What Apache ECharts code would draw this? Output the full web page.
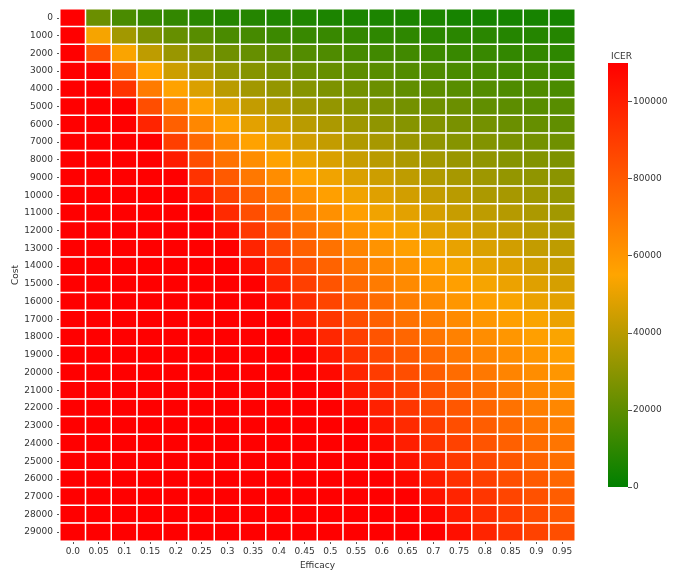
<!DOCTYPE html>
<html>
<head>
<meta charset="utf-8">
<script src="https://cdn.jsdelivr.net/npm/echarts@6/dist/echarts.min.js"></script>
<style>
html,body{margin:0;padding:0;background:#fff;}
#chart{width:678px;height:571px;}
</style>
</head>
<body>
<div id="chart"></div>
<script>
// Efficacy categories (x axis)
const efficacy = ['0.0','0.05','0.1','0.15','0.2','0.25','0.3','0.35','0.4','0.45',
                  '0.5','0.55','0.6','0.65','0.7','0.75','0.8','0.85','0.9','0.95'];
// Cost categories (y axis, top to bottom)
const cost = ['0','1000','2000','3000','4000','5000','6000','7000','8000','9000',
              '10000','11000','12000','13000','14000','15000','16000','17000','18000','19000',
              '20000','21000','22000','23000','24000','25000','26000','27000','28000','29000'];
// Colorbar tick labels
const colorbarTicks = [0, 20000, 40000, 60000, 80000, 100000];

// ICER values in thousands, one array per efficacy column (cost 0 .. 29000)
const icerK = [
  [110,110,110,110,110,110,110,110,110,110, 110,110,110,110,110,110,110,110,110,110, 110,110,110,110,110,110,110,110,110,110],
  [23,53,83,110,110,110,110,110,110,110, 110,110,110,110,110,110,110,110,110,110, 110,110,110,110,110,110,110,110,110,110],
  [16,35,54,74,93,110,110,110,110,110, 110,110,110,110,110,110,110,110,110,110, 110,110,110,110,110,110,110,110,110,110],
  [12,27,41,55,69,84,98,110,110,110, 110,110,110,110,110,110,110,110,110,110, 110,110,110,110,110,110,110,110,110,110],
  [11,22,33,44,56,67,78,89,101,110, 110,110,110,110,110,110,110,110,110,110, 110,110,110,110,110,110,110,110,110,110],
  [9,19,28,37,47,56,65,75,84,93, 102,110,110,110,110,110,110,110,110,110, 110,110,110,110,110,110,110,110,110,110],
  [8,16,24,32,40,48,56,64,72,80, 88,96,104,110,110,110,110,110,110,110, 110,110,110,110,110,110,110,110,110,110],
  [8,15,22,29,35,42,49,56,63,70, 77,84,91,98,105,110,110,110,110,110, 110,110,110,110,110,110,110,110,110,110],
  [7,13,20,26,32,38,44,50,56,63, 69,75,81,87,93,99,106,110,110,110, 110,110,110,110,110,110,110,110,110,110],
  [7,12,18,23,29,34,40,45,51,56, 62,67,73,78,84,89,95,100,106,110, 110,110,110,110,110,110,110,110,110,110],
  [6,12,17,22,27,32,37,42,47,52, 57,62,67,72,77,82,87,92,97,102, 107,110,110,110,110,110,110,110,110,110],
  [6,11,15,20,25,29,34,38,43,47, 52,57,61,66,70,75,80,84,89,93, 98,102,107,110,110,110,110,110,110,110],
  [6,10,14,19,23,27,31,36,40,44, 48,52,57,61,65,69,74,78,82,86, 90,95,99,103,107,110,110,110,110,110],
  [6,10,14,18,21,25,29,33,37,41, 45,49,53,57,61,64,68,72,76,80, 84,88,92,96,100,104,107,110,110,110],
  [6,9,13,17,20,24,28,31,35,38, 42,46,49,53,57,60,64,68,71,75, 79,82,86,90,93,97,101,104,108,110],
  [5,9,12,16,19,23,26,29,33,36, 40,43,47,50,53,57,60,64,67,70, 74,77,81,84,88,91,94,98,101,105],
  [5,9,12,15,18,21,25,28,31,34, 37,41,44,47,50,53,57,60,63,66, 70,73,76,79,82,86,89,92,95,98],
  [5,8,11,14,17,20,23,26,29,32, 36,39,42,45,48,51,54,57,60,63, 66,69,72,75,78,81,84,87,90,93],
  [5,8,11,14,17,19,22,25,28,31, 34,37,40,42,45,48,51,54,57,60, 63,65,68,71,74,77,80,83,85,88],
  [5,8,10,13,16,19,21,24,27,30, 32,35,38,41,43,46,49,51,54,57, 60,62,65,68,71,73,76,79,81,84]
];

const data = [];
icerK.forEach((col, xi) => col.forEach((v, yi) => data.push([xi, yi, v * 1000])));

const colors = ['#008000', '#FFA500', '#FF0000'];
const chart = echarts.init(document.getElementById('chart'), null, {renderer: 'canvas'});
const font = 'DejaVu Sans';
const hidden = {show: false};
chart.setOption({
  animation: false,
  backgroundColor: '#fff',
  textStyle: {fontFamily: font},
  axisPointer: {show: false},
  title: {
    text: 'ICER', left: 606, top: 47,
    textStyle: {fontSize: 9, fontWeight: 'normal', color: '#333', fontFamily: font}
  },
  grid: [
    {left: 60, top: 9, width: 515, height: 532, outerBoundsMode: 'none', containLabel: false},
    {left: 608, top: 63, width: 20, height: 424, outerBoundsMode: 'none', containLabel: false, show: false}
  ],
  xAxis: [
    {
      type: 'category', data: efficacy, gridIndex: 0,
      name: 'Efficacy', nameLocation: 'middle', nameGap: 20,
      nameTextStyle: {fontSize: 9, color: '#333', fontFamily: font},
      axisLine: {show: false},
      axisTick: {show: true, alignWithLabel: true, length: 3, lineStyle: {color: '#555'}},
      axisLabel: {fontSize: 9, color: '#333', margin: 6, interval: 0, fontFamily: font},
      splitLine: {show: false}
    },
    {type: 'category', data: [''], gridIndex: 1, show: false,
     axisLine: hidden, axisTick: hidden, axisLabel: hidden, splitLine: hidden, splitArea: hidden}
  ],
  yAxis: [
    {
      type: 'category', data: cost, gridIndex: 0, inverse: true,
      name: 'Cost', nameLocation: 'middle', nameGap: 40, nameRotate: 90, nameMoveOverlap: false,
      nameTextStyle: {fontSize: 9, color: '#333', fontFamily: font},
      axisLine: {show: false},
      axisTick: {show: true, alignWithLabel: true, length: 3, lineStyle: {color: '#555'}},
      axisLabel: {fontSize: 9, color: '#333', margin: 7, interval: 0, fontFamily: font},
      splitLine: {show: false}
    },
    {
      type: 'value', gridIndex: 1, position: 'right', min: 0, max: 110000,
      axisLine: {show: false},
      axisTick: {show: true, length: 4, lineStyle: {color: '#555'}, customValues: colorbarTicks},
      axisLabel: {fontSize: 9, color: '#333', margin: 5, customValues: colorbarTicks,
                  formatter: v => String(v), fontFamily: font},
      splitLine: {show: false}, splitArea: {show: false}
    }
  ],
  visualMap: {
    type: 'continuous', show: false, min: 0, max: 110000, seriesIndex: 0, dimension: 2,
    inRange: {color: colors}
  },
  graphic: [{
    type: 'rect', z: 10,
    shape: {x: 608, y: 63, width: 20, height: 424},
    style: {
      fill: new echarts.graphic.LinearGradient(0, 1, 0, 0, [
        {offset: 0, color: colors[0]},
        {offset: 0.5, color: colors[1]},
        {offset: 1, color: colors[2]}
      ])
    }
  }],
  series: [{
    type: 'heatmap', xAxisIndex: 0, yAxisIndex: 0,
    data: data,
    itemStyle: {borderColor: '#ffffff', borderWidth: 1.5},
    emphasis: {disabled: true}
  }]
});
</script>
</body>
</html>
